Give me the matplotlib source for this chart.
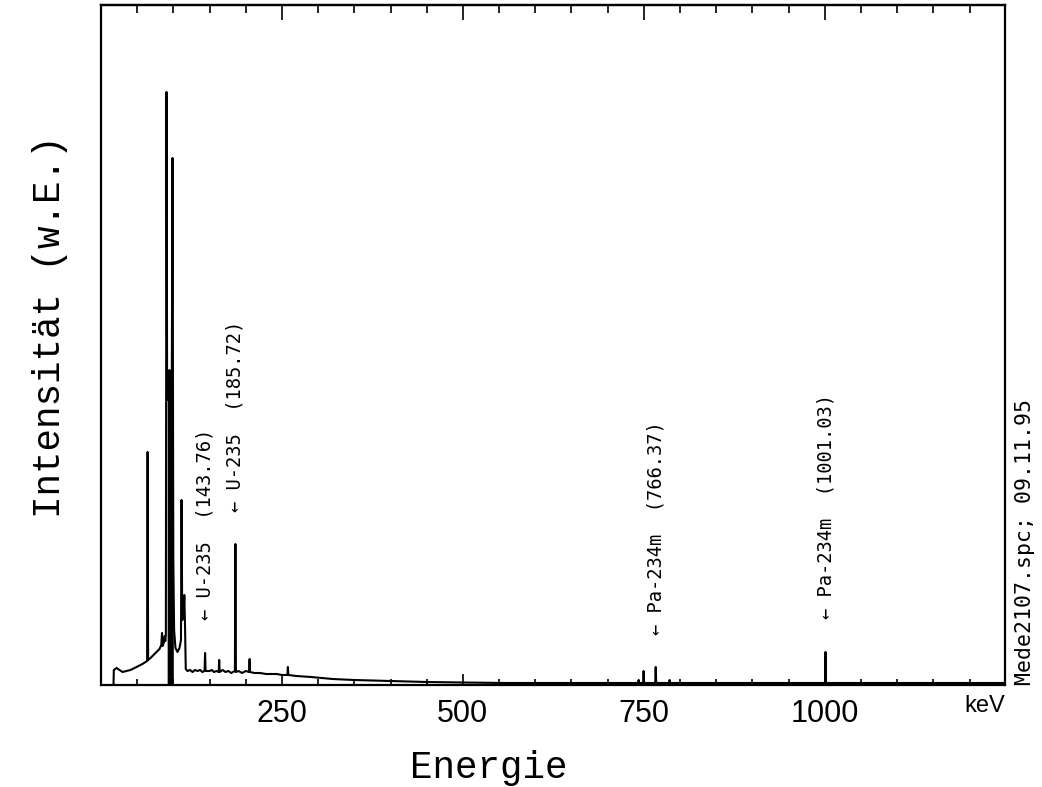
import matplotlib
matplotlib.use('Agg')
import matplotlib.pyplot as plt
import numpy as np

# spectrum vertices (energy in keV, intensity in arbitrary units)
energy_kev = [17.3, 17.7, 21.4, 25.6, 29.7, 35.2, 40.7, 46.3, 51.8, 57.3, 61.5,
              63.7, 64.4, 65.1,
              68.4, 72.5, 76.7, 80.8, 83.3, 84.3, 85.2, 87.0, 88.0, 88.8, 89.6,
              90.5, 91.4, 92.3, 93.5, 94.6, 95.7, 96.8, 97.8, 98.8, 99.9, 101.0,
              102.9, 105.7, 108.4, 110.5, 111.3, 112.2, 114.0, 115.1, 116.2, 117.1,
              119.5, 123.0, 126.4, 130.0, 133.3, 137.0, 140.0, 143.1, 143.8, 144.5,
              150.0, 153.0, 156.0, 159.5, 162.6, 163.3, 164.0, 168.0, 172.0, 176.0,
              180.0, 185.0, 185.7, 186.4, 190.0, 195.0, 200.0,
              204.6, 205.3, 206.0, 212.0, 220.0, 228.0, 235.0, 243.0, 250.0, 257.5, 258.2, 258.9,
              270.0, 290.0, 320.0, 350.0, 400.0, 450.0, 500.0, 560.0, 620.0,
              680.0, 730.0, 742.1, 742.8, 743.5, 749.0, 749.7, 750.4,
              765.7, 766.4, 767.1, 784.9, 785.6, 786.3, 850.0, 920.0,
              1000.3, 1001.0, 1001.7, 1080.0, 1160.0, 1248.0]
intensity = [1, 15, 17, 15, 13, 14, 15, 17, 19, 21, 23,
             24, 233, 25,
             27, 30, 33, 36, 40, 52, 39, 43, 49, 44, 50,
             593, 285, 313, 305, 315, 307, 313, 300, 527, 125, 55,
             37, 33, 37, 45, 185, 65, 67, 90, 55, 16,
             14, 15, 13, 15, 14, 15, 13, 14, 32, 14,
             14, 15, 13, 14, 13, 25, 13, 15, 13, 14,
             12, 14, 141, 13, 14, 12, 14,
             13, 26, 13, 12, 12, 11, 11, 11, 10, 10, 18, 10,
             9, 8, 6, 5, 4, 3, 2.5, 2, 2,
             2, 2, 2, 5, 2, 2, 14, 2,
             2, 18, 2, 2, 5, 2, 2, 2,
             2, 33, 2, 2, 2, 2]

# marked lines
line_energy = [143.76, 185.72, 766.37, 1001.03]
line_name = ['U-235', 'U-235', 'Pa-234m', 'Pa-234m']
arrow_tip = [65, 173, 50, 66]

major_ticks = [250, 500, 750, 1000]

energy_kev = np.array(energy_kev)
intensity = np.array(intensity)
minor_ticks = np.arange(50, 1249, 50)

fig = plt.figure(figsize=(10.42, 7.87), dpi=100)
ax = fig.add_axes([101/1042, 1-685/787, 904/1042, 680/787])

ax.plot(energy_kev, intensity, color='black', lw=1.5)
# the K x-ray group is so dense it prints as a solid block
band = (energy_kev >= 91.4) & (energy_kev <= 99.9)
ax.fill_between(energy_kev, 0, intensity, where=band, color='black', lw=0)

for e, name, tip in zip(line_energy, line_name, arrow_tip):
    ax.text(e, tip, f'\u2190 {name}  ({e:.2f})', rotation=90, ha='center', va='bottom',
            family='DejaVu Sans Mono', fontsize=13.5)

ax.set_xlim(0, 1249)
ax.set_ylim(0, 680)
ax.set_xticks(major_ticks)
ax.set_xticks(minor_ticks, minor=True)
ax.set_xticklabels([str(t) for t in major_ticks], family='Liberation Sans', fontsize=22)
ax.set_yticks([])
ax.tick_params(axis='x', which='both', direction='in', top=False, bottom=True, width=1.2, pad=10)
ax.tick_params(axis='x', which='major', length=8)
ax.tick_params(axis='x', which='minor', length=4.5)
for s in ax.spines.values():
    s.set_linewidth(1.6)

# top edge carries longer ticks than the bottom one
top = ax.secondary_xaxis('top')
top.set_xticks(major_ticks)
top.set_xticks(minor_ticks, minor=True)
top.tick_params(axis='x', which='both', direction='in', width=1.2, labeltop=False)
top.tick_params(axis='x', which='major', length=11)
top.tick_params(axis='x', which='minor', length=5.5)
top.spines['top'].set_linewidth(1.6)

fig.text(985/1042, 1-706/787, 'keV', ha='center', va='center',
         family='Liberation Sans', fontsize=17)

fig.text(489/1042, 1-768/787, 'Energie', ha='center', va='center',
         family='Liberation Mono', fontsize=27)
fig.text(50/1042, 1-327/787, 'Intensität (w.E.)', rotation=90, ha='center', va='center',
         family='Liberation Mono', fontsize=27)
fig.text(1025/1042, 1-685/787, 'Mede2107.spc; 09.11.95', rotation=90, ha='center', va='bottom',
         family='DejaVu Sans Mono', fontsize=15.5)

fig.savefig('out.png', dpi=100, facecolor='white')
